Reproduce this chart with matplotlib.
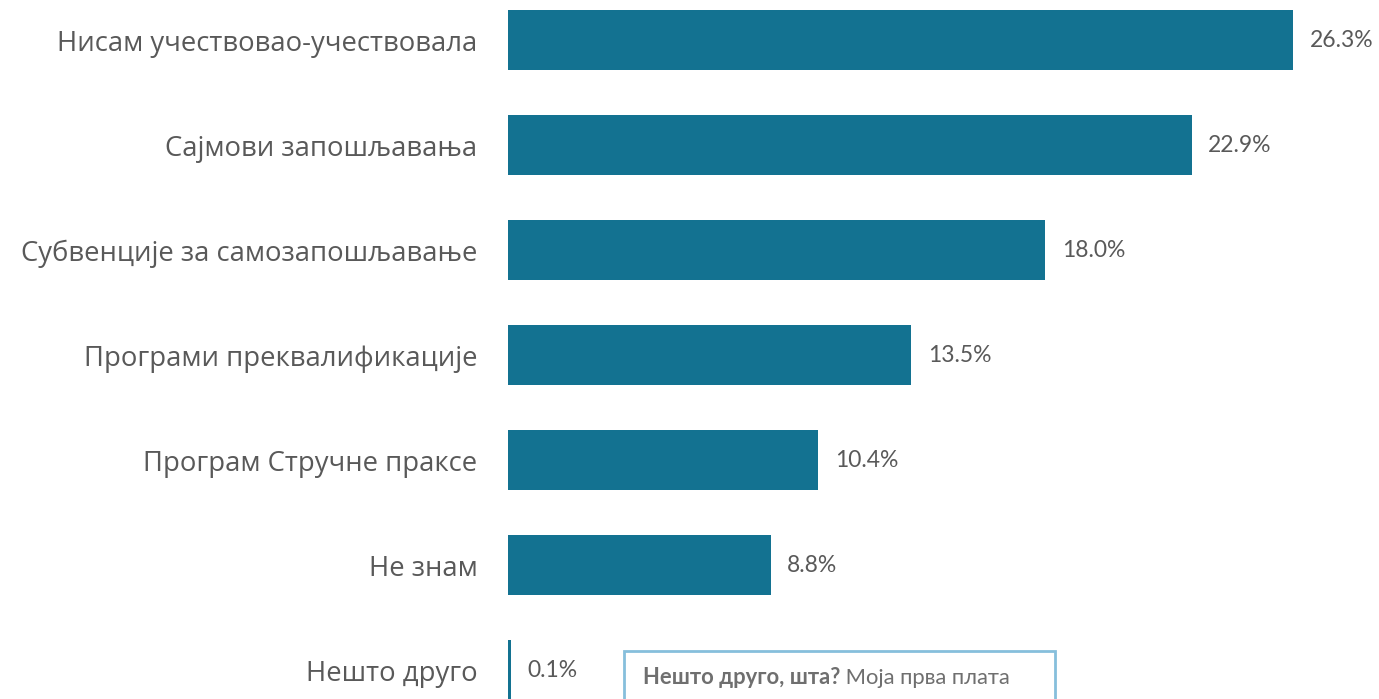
import matplotlib.pyplot as plt
from matplotlib.patches import Rectangle

# data
categories = ["Нисам учествовао-учествовала", "Сајмови запошљавања",
              "Субвенције за самозапошљавање", "Програми преквалификације",
              "Програм Стручне праксе", "Не знам", "Нешто друго"]
values = [26.3, 22.9, 18.0, 13.5, 10.4, 8.8, 0.1]
note_bold = "Нешто друго, шта?"
note_text = " Моја прва плата"

bar_color = "#137291"
text_color = "#595959"

fig = plt.figure(figsize=(13.79, 6.99), dpi=100)
ax = fig.add_axes([508 / 1379, 0, 871 / 1379, 1])

y = list(range(len(categories)))
ax.barh(y, values, height=0.57, color=bar_color)
ax.set_xlim(0, 871 / 29.85)
ax.set_ylim(6.276, -0.381)

for yi, v in zip(y, values):
    ax.annotate("%.1f%%" % v, (v, yi), xytext=(12, 0), textcoords="offset points",
                va="center", ha="left", fontsize=16.5, color=text_color, family="Lato")

ax.set_yticks(y)
ax.set_yticklabels(categories, fontsize=19.8, color=text_color, family="Open Sans")
ax.tick_params(axis="y", length=0, pad=22)
ax.set_xticks([])
for s in ax.spines.values():
    s.set_visible(False)

# comment box at the bottom
box = Rectangle((624 / 1379, -0.05), (1055 - 624) / 1379, (699 - 651) / 699 + 0.05,
                transform=fig.transFigure, fill=False, edgecolor="#86bfdc", linewidth=2)
fig.add_artist(box)
t1 = fig.text(643 / 1379, 1 - 678 / 699, note_bold, fontsize=15.8, fontweight="bold",
              color="#6f6f6f", family="Lato", va="center")
fig.canvas.draw()
bb = t1.get_window_extent()
fig.text(bb.x1 / fig.bbox.width, 1 - 678 / 699, note_text, fontsize=15.8,
         color="#6f6f6f", family="Lato", va="center")

fig.savefig("out.png", dpi=100)
